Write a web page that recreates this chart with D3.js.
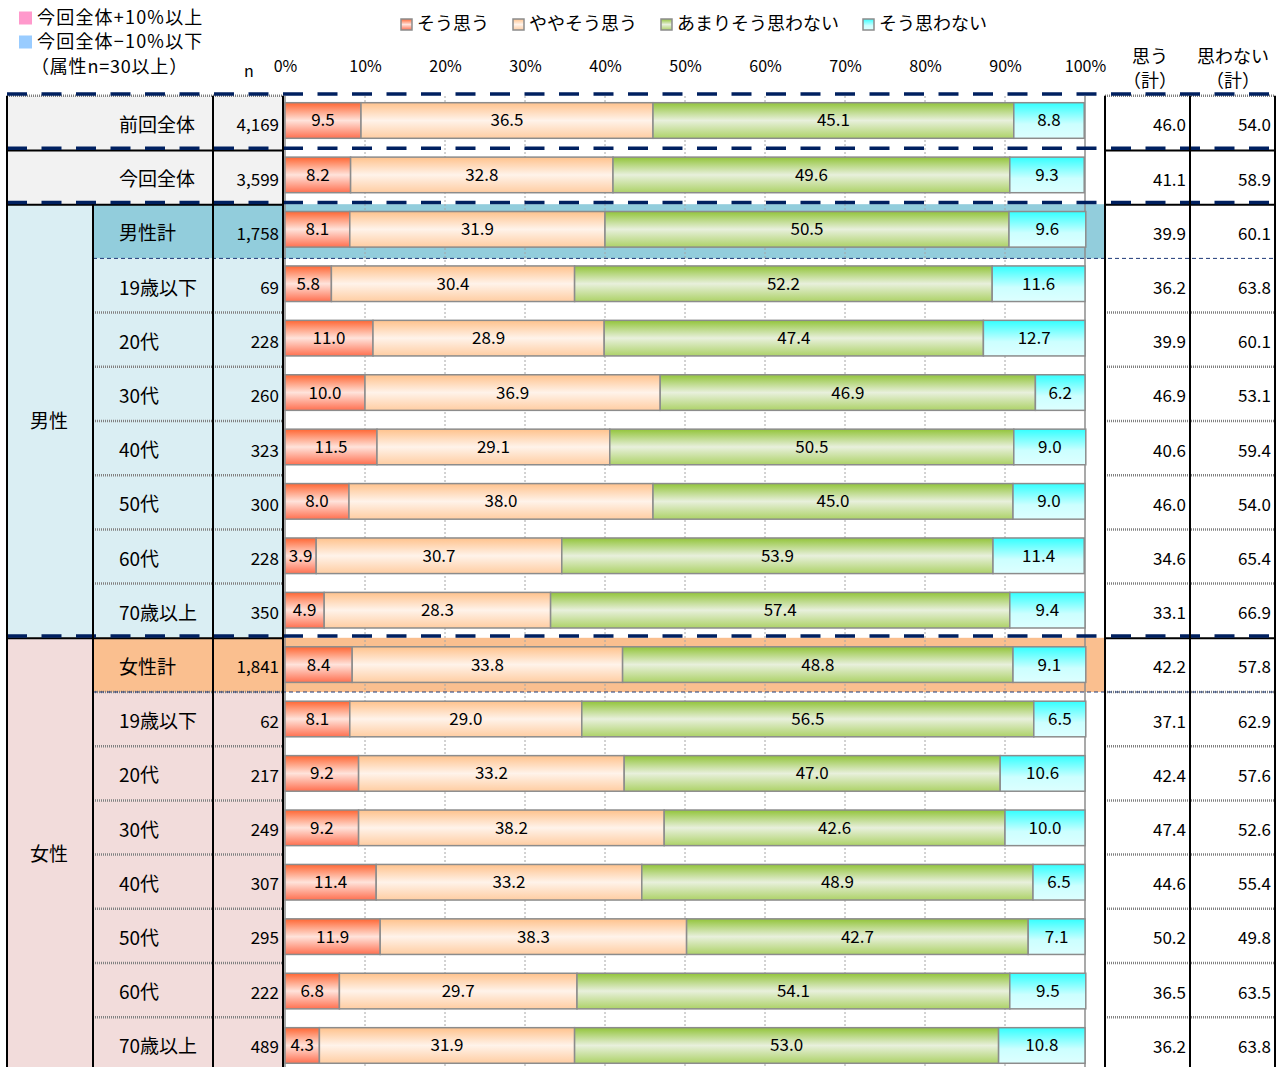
<!DOCTYPE html>
<html>
<head>
<meta charset="utf-8">
<script src="https://cdn.jsdelivr.net/npm/d3@7"></script>
<style>
body { margin: 0; background: #fff; }
text { font-family: "Noto Sans CJK JP", "Noto Sans", sans-serif; fill: #000; }
</style>
</head>
<body>
<svg id="chart" width="1285" height="1067"></svg>
<script>
// rows of the table, top to bottom
var categories = ['前回全体', '今回全体',
    '男性計', '19歳以下', '20代', '30代', '40代', '50代', '60代', '70歳以上',
    '女性計', '19歳以下', '20代', '30代', '40代', '50代', '60代', '70歳以上'];
var nValues = [4169, 3599, 1758, 69, 228, 260, 323, 300, 228, 350,
    1841, 62, 217, 249, 307, 295, 222, 489];

var seriesNames = ['そう思う', 'ややそう思う', 'あまりそう思わない', 'そう思わない'];
var soOmou     = [9.5, 8.2, 8.1, 5.8, 11.0, 10.0, 11.5, 8.0, 3.9, 4.9, 8.4, 8.1, 9.2, 9.2, 11.4, 11.9, 6.8, 4.3];
var yayaOmou   = [36.5, 32.8, 31.9, 30.4, 28.9, 36.9, 29.1, 38.0, 30.7, 28.3, 33.8, 29.0, 33.2, 38.2, 33.2, 38.3, 29.7, 31.9];
var amariOmowanai = [45.1, 49.6, 50.5, 52.2, 47.4, 46.9, 50.5, 45.0, 53.9, 57.4, 48.8, 56.5, 47.0, 42.6, 48.9, 42.7, 54.1, 53.0];
var soOmowanai = [8.8, 9.3, 9.6, 11.6, 12.7, 6.2, 9.0, 9.0, 11.4, 9.4, 9.1, 6.5, 10.6, 10.0, 6.5, 7.1, 9.5, 10.8];

var omouTotal     = [46.0, 41.1, 39.9, 36.2, 39.9, 46.9, 40.6, 46.0, 34.6, 33.1, 42.2, 37.1, 42.4, 47.4, 44.6, 50.2, 36.5, 36.2];
var omowanaiTotal = [54.0, 58.9, 60.1, 63.8, 60.1, 53.1, 59.4, 54.0, 65.4, 66.9, 57.8, 62.9, 57.6, 52.6, 55.4, 49.8, 63.5, 63.8];

// the two attribute groups (first row of each is the group total)
var groupNames = ['男性', '女性'];
var groupFirst = [2, 10];
var groupLast = [9, 17];

var axisTicks = [0, 10, 20, 30, 40, 50, 60, 70, 80, 90, 100];

var svg = d3.select('#chart');
var fmt1 = d3.format('.1f'),
    fmtN = d3.format(',');

var x = d3.scaleLinear().domain([0, 100]).range([285, 1085]);
var rowIdx = d3.range(categories.length);
// table rows and chart bars drift slightly apart in the original
var yRow = d3.scaleBand().domain(rowIdx).range([95.8, 95.8 + categories.length * 54.2]);
var yBar = d3.scaleBand().domain(rowIdx).range([96.3, 96.3 + categories.length * 54.41]);

var groupOf = function(i) {
    for (var g = 0; g < groupFirst.length; g++) {
        if (i >= groupFirst[g] && i <= groupLast[g]) return g;
    }
    return -1;
};
var isTotal = function(i) { return groupFirst.indexOf(i) > -1; };
var lightFill = ['#DAEEF3', '#F2DCDB'],
    totalFill = ['#92CDDC', '#FABF8F'];
var rowFill = function(i) {
    var g = groupOf(i);
    if (g < 0) return '#F2F2F2';
    return isTotal(i) ? totalFill[g] : lightFill[g];
};

// gradients for the bar segments
var gradStops = [
    [['0', '#FF6633'], ['0.5', '#FFE3DB'], ['1', '#FF7050']],
    [['0', '#FFC28C'], ['0.5', '#FFF3EA'], ['1', '#FFCDA2']],
    [['0', '#92C43A'], ['0.5', '#E8F0DC'], ['1', '#ADD268']],
    [['0', '#33FFFF'], ['0.6', '#CCFFFF'], ['1', '#DDFFFF']]
];
var defs = svg.append('defs');
gradStops.forEach(function(stops, k) {
    var lg = defs.append('linearGradient').attr('id', 'g' + k)
        .attr('x1', 0).attr('y1', 0).attr('x2', 0).attr('y2', 1);
    stops.forEach(function(s) {
        lg.append('stop').attr('offset', s[0]).attr('stop-color', s[1]);
    });
});

// ---- table backgrounds
var bg = svg.append('g');
bg.selectAll('.cell').data(rowIdx).enter().append('rect')
    .attr('x', function(i) { return groupOf(i) < 0 ? 7 : 93; })
    .attr('y', function(i) { return yRow(i); })
    .attr('width', function(i) { return groupOf(i) < 0 ? 276 : 190; })
    .attr('height', yRow.bandwidth())
    .style('fill', rowFill);

// group totals are highlighted right through the chart
bg.selectAll('.hl').data(groupFirst).enter().append('rect')
    .attr('x', 283).attr('y', function(i) { return yRow(i); })
    .attr('width', 1105 - 283).attr('height', yRow.bandwidth())
    .style('fill', function(i) { return rowFill(i); });

bg.selectAll('.grp').data(groupNames).enter().append('rect')
    .attr('x', 7)
    .attr('y', function(d, g) { return yRow(groupFirst[g]); })
    .attr('width', 86)
    .attr('height', function(d, g) { return yRow(groupLast[g]) + yRow.bandwidth() - yRow(groupFirst[g]); })
    .style('fill', function(d, g) { return lightFill[g]; });

// ---- grid
var grid = svg.append('g');
grid.selectAll('line').data(axisTicks.slice(1, -1)).enter().append('line')
    .attr('x1', x).attr('x2', x).attr('y1', 96).attr('y2', 1067)
    .style('stroke', '#A6A6A6').style('stroke-width', 1).style('stroke-dasharray', '2,2');
grid.selectAll('.edge').data([0, 100]).enter().append('line')
    .attr('x1', x).attr('x2', x).attr('y1', 96).attr('y2', 1067)
    .style('stroke', '#8C8C8C').style('stroke-width', 1.5);

// ---- bars
var rows = rowIdx.map(function(i) {
    return {i: i, s0: soOmou[i], s1: yayaOmou[i], s2: amariOmowanai[i], s3: soOmowanai[i]};
});
var stack = d3.stack().keys(['s0', 's1', 's2', 's3']);
var layers = svg.append('g').selectAll('.layer').data(stack(rows)).enter()
    .append('g').attr('class', 'layer');

layers.selectAll('rect').data(function(d) { return d; }).enter().append('rect')
    .attr('x', function(d) { return x(d[0]); })
    .attr('y', function(d) { return yBar(d.data.i) + 6.4; })
    .attr('width', function(d) { return x(d[1]) - x(d[0]); })
    .attr('height', 35.6)
    .style('fill', function() { return 'url(#g' + d3.select(this.parentNode).datum().index + ')'; })
    .style('stroke', '#8C8C8C').style('stroke-width', 1.5);

layers.selectAll('text').data(function(d) { return d; }).enter().append('text')
    .attr('x', function(d) { return (x(d[0]) + x(d[1])) / 2; })
    .attr('y', function(d) { return yBar(d.data.i) + 24.2; })
    .attr('dy', '0.35em')
    .attr('text-anchor', 'middle')
    .style('font-size', '17px')
    .text(function(d) { return fmt1(d[1] - d[0]); });

// ---- horizontal separators
var lines = svg.append('g');
var tableSpans = function(k) {
    // left part of the table, then the right part
    var g = groupOf(k);
    var left = (k === 0 || k === 1 || k === 2 || k === 10 || g < 0) ? 7 : 93;
    return [[left, 283], [1105, 1275]];
};
var hatchRows = rowIdx.filter(function(k) { return k === 0 || (k > 2 && groupFirst.indexOf(k - 1) < 0 && groupFirst.indexOf(k) < 0); });
hatchRows.push(11);
hatchRows.forEach(function(k) {
    tableSpans(k).forEach(function(s) {
        lines.append('line').attr('x1', s[0]).attr('x2', s[1])
            .attr('y1', yRow(k)).attr('y2', yRow(k))
            .style('stroke', '#808080').style('stroke-width', 2.5).style('stroke-dasharray', '1,1');
    });
});
// fine dashed line under each group total
lines.selectAll('.fine').data(groupFirst).enter().append('line')
    .attr('x1', 93).attr('x2', 1275)
    .attr('y1', function(i) { return yRow(i) + yRow.bandwidth(); })
    .attr('y2', function(i) { return yRow(i) + yRow.bandwidth(); })
    .style('stroke', '#1F3A78').style('stroke-width', 1).style('stroke-dasharray', '4,3');

// heavy breaks: before 今回全体, before each group
var breaks = [1].concat(groupFirst);
breaks.forEach(function(k) {
    tableSpans(k).forEach(function(s) {
        lines.append('line').attr('x1', s[0]).attr('x2', s[1])
            .attr('y1', yRow(k) + 0.5).attr('y2', yRow(k) + 0.5)
            .style('stroke', '#000').style('stroke-width', 2);
    });
});
lines.selectAll('.navy').data([0].concat(breaks)).enter().append('line')
    .attr('x1', 7).attr('x2', 1275)
    .attr('y1', function(k) { return yRow(k) - 1.8; })
    .attr('y2', function(k) { return yRow(k) - 1.8; })
    .style('stroke', '#002060').style('stroke-width', 3.5).style('stroke-dasharray', '20,14.5');

// vertical borders
var vb = [[7, 0], [93, 2], [213, 0], [283, 0], [1105, 0], [1190, 0], [1275, 0]];
lines.selectAll('.vb').data(vb).enter().append('line')
    .attr('x1', function(d) { return d[0]; }).attr('x2', function(d) { return d[0]; })
    .attr('y1', function(d) { return yRow(d[1]); }).attr('y2', 1067)
    .style('stroke', '#000').style('stroke-width', 2);

// ---- table text
var tt = svg.append('g');
tt.selectAll('.cat').data(categories).enter().append('text')
    .attr('x', 119).attr('y', function(d, i) { return yRow(i) + yRow.bandwidth() / 2 + 2.5; })
    .attr('dy', '0.35em').style('font-size', '19px')
    .text(function(d) { return d; });
tt.selectAll('.n').data(nValues).enter().append('text')
    .attr('x', 279).attr('y', function(d, i) { return yRow(i) + yRow.bandwidth() / 2 + 2.5; })
    .attr('dy', '0.35em').attr('text-anchor', 'end').style('font-size', '17px')
    .text(function(d) { return fmtN(d); });
tt.selectAll('.gl').data(groupNames).enter().append('text')
    .attr('x', 49)
    .attr('y', function(d, g) { return (yRow(groupFirst[g]) + yRow(groupLast[g]) + yRow.bandwidth()) / 2; })
    .attr('dy', '0.35em').attr('text-anchor', 'middle').style('font-size', '19px')
    .text(function(d) { return d; });
[[omouTotal, 1186], [omowanaiTotal, 1271]].forEach(function(c) {
    tt.append('g').selectAll('text').data(c[0]).enter().append('text')
        .attr('x', c[1]).attr('y', function(d, i) { return yRow(i) + yRow.bandwidth() / 2 + 2.5; })
        .attr('dy', '0.35em').attr('text-anchor', 'end').style('font-size', '17px')
        .text(function(d) { return fmt1(d); });
});

// ---- headers
var ax = svg.append('g').attr('transform', 'translate(0,72)')
    .call(d3.axisTop(x).tickValues(axisTicks).tickSize(0).tickPadding(0)
        .tickFormat(function(d) { return d + '%'; }));
ax.select('.domain').remove();
ax.selectAll('text').style('font-size', '16px').style('font-family', '"Noto Sans CJK JP", sans-serif');

svg.append('text').attr('x', 249).attr('y', 71).attr('dy', '0.35em')
    .attr('text-anchor', 'middle').style('font-size', '16px').text('n');

[['思う', 1150], ['思わない', 1233]].forEach(function(h) {
    svg.append('text').attr('x', h[1]).attr('y', 57).attr('dy', '0.35em')
        .attr('text-anchor', 'middle').style('font-size', '18px').text(h[0]);
    svg.append('text').attr('x', h[1]).attr('y', 81).attr('dy', '0.35em')
        .attr('text-anchor', 'middle').style('font-size', '18px').text('（計）');
});

// highlight key, top left
var keyItems = [['#FF99CC', '今回全体+10%以上', 18], ['#99CCFF', '今回全体−10%以下', 42]];
keyItems.forEach(function(k) {
    svg.append('rect').attr('x', 19).attr('y', k[2] - 6.5).attr('width', 13).attr('height', 13)
        .style('fill', k[0]);
    svg.append('text').attr('x', 37).attr('y', k[2]).attr('dy', '0.35em')
        .style('font-size', '18px').style('letter-spacing', '1.2px').text(k[1]);
});
svg.append('text').attr('x', 31).attr('y', 67).attr('dy', '0.35em')
    .style('font-size', '18px').style('letter-spacing', '0.8px').text('（属性n=30以上）');

// series legend
var lx = 401;
seriesNames.forEach(function(name, k) {
    svg.append('rect').attr('x', lx).attr('y', 19).attr('width', 11).attr('height', 11)
        .style('fill', 'url(#g' + k + ')').style('stroke', '#8C8C8C').style('stroke-width', 1.5);
    var t = svg.append('text').attr('x', lx + 16).attr('y', 24).attr('dy', '0.35em')
        .style('font-size', '18px').text(name);
    lx = lx + 16 + t.node().getComputedTextLength() + 24;
});
</script>
</body>
</html>
